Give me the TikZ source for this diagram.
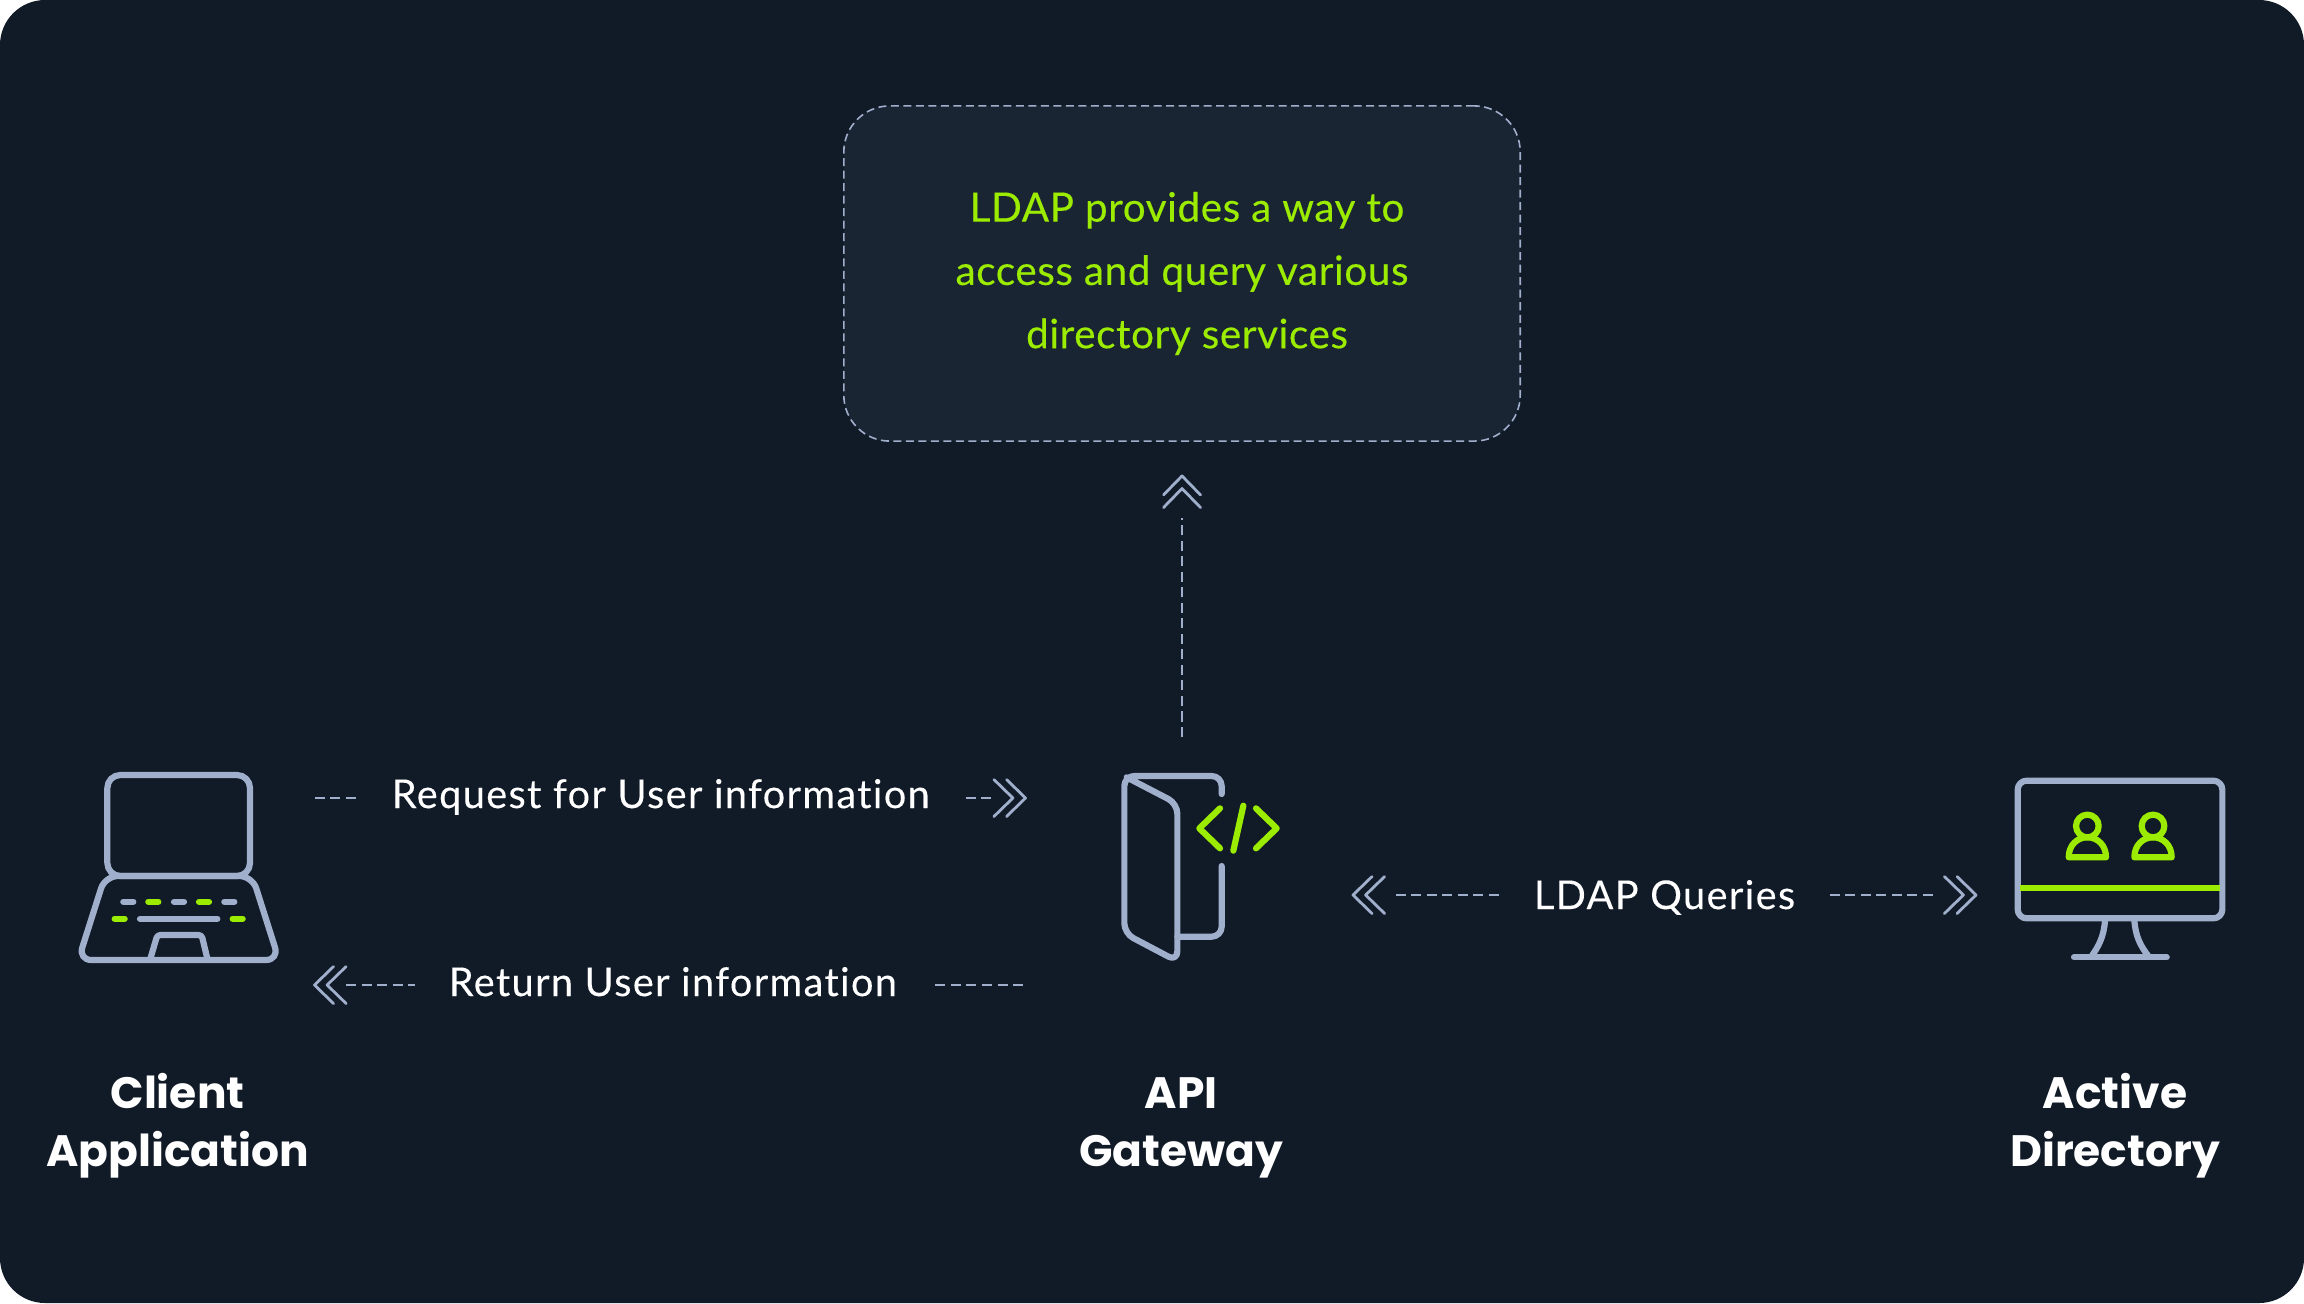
\documentclass[tikz,border=0pt]{standalone}
\usepackage{fontspec}
\setmainfont{Lato}[Ligatures=NoCommon]
\newfontfamily\headfont{Poppins}
\usepackage{tikz}
\usetikzlibrary{arrows.meta,positioning}
\definecolor{ldapbg}{HTML}{111A27}
\definecolor{ldapbox}{HTML}{1A2533}
\definecolor{ldapgreen}{HTML}{9BEC00}
\definecolor{ldapslate}{HTML}{A0AFCC}
% double chevron tips: one with a gap before the line, one without
\newcommand{\chevronpair}{
  \pgfsetdash{}{0pt}
  \pgfsetlinewidth{0.028cm}
  \pgfsetroundcap
  \pgfsetroundjoin
  \pgfpathmoveto{\pgfpoint{-0.19cm}{0.185cm}}
  \pgfpathlineto{\pgfpoint{0cm}{0cm}}
  \pgfpathlineto{\pgfpoint{-0.19cm}{-0.185cm}}
  \pgfpathmoveto{\pgfpoint{-0.316cm}{0.185cm}}
  \pgfpathlineto{\pgfpoint{-0.126cm}{0cm}}
  \pgfpathlineto{\pgfpoint{-0.316cm}{-0.185cm}}
  \pgfusepathqstroke
}
\pgfdeclarearrow{name=ChevGap,setup code={\pgfarrowssettipend{0cm}\pgfarrowssetlineend{-0.425cm}\pgfarrowssetbackend{-0.316cm}\pgfarrowssetvisualbackend{-0.316cm}},drawing code={\chevronpair}}
\pgfdeclarearrow{name=ChevNear,setup code={\pgfarrowssettipend{0cm}\pgfarrowssetlineend{-0.316cm}\pgfarrowssetbackend{-0.316cm}\pgfarrowssetvisualbackend{-0.316cm}},drawing code={\chevronpair}}
\tikzset{
  flow/.style={draw=ldapslate,line width=0.028cm,dash pattern=on 0.1cm off 0.055cm},
  flowtext/.style={fill=ldapbg,text=white,font=\fontsize{11.3}{13}\selectfont\addfontfeatures{LetterSpace=3.4,FakeBold=0.15},inner xsep=0.34cm,inner ysep=0pt,text height=8pt,text depth=0pt},
  headtext/.style={text=white,font=\headfont\bfseries\fontsize{12.5}{16.5}\selectfont,align=center,inner sep=0pt,anchor=base},
  iconline/.style={draw=ldapslate,line width=0.062cm,line cap=round,line join=round},
  iconmark/.style={draw=ldapgreen,line width=0.062cm,line cap=round,line join=round}
}
\begin{document}
\begin{tikzpicture}[x=0.01cm,y=-0.01cm]
\useasboundingbox (0,0) rectangle (2304,1303);
\fill[white] (0,0) rectangle (2304,1303);
\fill[ldapbg,rounded corners=0.45cm] (0,0) rectangle (2304,1303);

% Info box
\node[draw=ldapslate,fill=ldapbox,line width=0.016cm,dash pattern=on 0.08cm off 0.045cm,rounded corners=0.46cm,minimum width=6.76cm,minimum height=3.35cm,text=ldapgreen,font=\fontsize{11.5}{18}\selectfont\addfontfeatures{LetterSpace=1.5,FakeBold=0.3},align=center] (infobox) at (1182,273.5) {\hspace*{0.1cm}LDAP provides a way to\\access and query various\\\hspace*{0.1cm}directory services};

% Connector ends
\coordinate (clientout) at (314.5,798);
\coordinate (gatewayin) at (1025.5,798);
\coordinate (clientin) at (314.5,985);
\coordinate (gatewayout) at (1025.5,985);
\coordinate (gatewayup) at (1182,737);
\coordinate (gatewayright) at (1353,895);
\coordinate (directoryleft) at (1976,895);

% Connectors
\draw[flow,-{ChevNear}] (clientout) -- node[flowtext,pos=0.487,yshift=0.04cm] (requestlabel) {Request for User information} (gatewayin);
\draw[flow,{ChevNear}-] (clientin) -- node[flowtext,pos=0.504,yshift=0.03cm] (returnlabel) {Return User information} (gatewayout);
\draw[flow,{ChevGap}-{ChevGap}] (gatewayright) -- node[flowtext] (querylabel) {LDAP Queries} (directoryleft);
\draw[flow,-{ChevGap},shorten >=0.34cm] (gatewayup) -- (infobox.south);

% Client laptop
\begin{scope}[shift={(40,740)},scale=1/3]
\draw[iconline,rounded corners=0.13cm] (202,105) rectangle (630,408);
\draw[iconline,rounded corners=0.13cm] (195,408) -- (115,660) -- (717,660) -- (637,408) -- cycle;
\draw[iconline,rounded corners=0.03cm] (330,660) -- (352,585) -- (485,585) -- (503,660);
\draw[iconline] (250,485) -- (280,485) (402,485) -- (432,485) (553,485) -- (583,485) (300,536) -- (532,536);
\draw[iconmark] (325,485) -- (355,485) (477,485) -- (507,485) (224,536) -- (254,536) (578,536) -- (608,536);
\end{scope}

% Gateway door
\begin{scope}[shift={(1080,740)},scale=1/3]
\draw[iconline,rounded corners=0.1cm] (425,162) -- (425,108) -- (133,108) -- (133,580) -- (292,664) -- (292,191) -- (140,112);
\draw[iconline,rounded corners=0.1cm] (292,590) -- (425,590) -- (425,378);
\draw[iconmark] (420,205) -- (358,265) -- (420,325) (490,197) -- (460,332) (528,205) -- (590,265) -- (528,325);
\end{scope}

% Directory monitor
\begin{scope}[shift={(1980,750)},scale=1/3]
\draw[iconline,rounded corners=0.09cm] (113,92) rectangle (727,505);
\draw[iconmark,line cap=butt] (120,415) -- (720,415);
\draw[iconline] (375,510) .. controls (372,560) and (355,590) .. (335,618);
\draw[iconline] (463,510) .. controls (466,560) and (483,590) .. (505,618);
\draw[iconline] (282,622) -- (560,622);
\draw[iconmark] (322,228) circle (34);
\draw[iconmark] (266,322) -- (378,322) .. controls (378,285) and (352,262) .. (322,262) .. controls (292,262) and (266,285) .. (266,322) -- cycle;
\begin{scope}[shift={(197,0)}]
\draw[iconmark] (322,228) circle (34);
\draw[iconmark] (266,322) -- (378,322) .. controls (378,285) and (352,262) .. (322,262) .. controls (292,262) and (266,285) .. (266,322) -- cycle;
\end{scope}
\end{scope}

% Captions
\node[headtext] (clientlabel) at (177.5,1166) {Client\\Application};
\node[headtext] (gatewaylabel) at (1181,1166) {API\\Gateway};
\node[headtext] (directorylabel) at (2115,1166) {Active\\Directory};
\end{tikzpicture}
\end{document}
